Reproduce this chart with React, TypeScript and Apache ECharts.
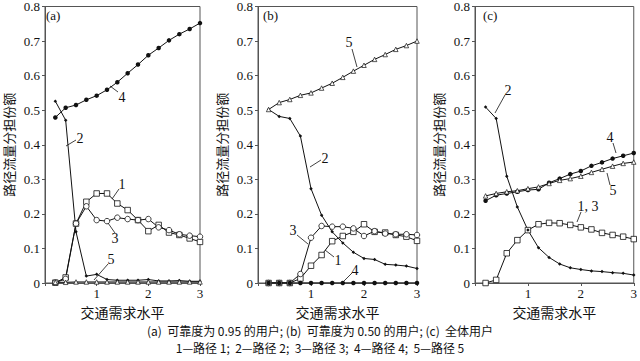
import React, { useEffect, useRef } from "react";
import * as echarts from "echarts";

const xs = [0.2, 0.4, 0.6, 0.8, 1.0, 1.2, 1.4, 1.6, 1.8, 2.0, 2.2, 2.4, 2.6, 2.8, 3.0];

// Panel (a): reliability 0.95 users
const a1 = [0.001, 0.016, 0.172, 0.235, 0.259, 0.259, 0.23, 0.211, 0.182, 0.15, 0.168, 0.146, 0.139, 0.129, 0.119];
const a2 = [0.526, 0.471, 0.148, 0.02, 0.025, 0.01, 0.008, 0.008, 0.008, 0.01, 0.006, 0.006, 0.007, 0.005, 0.005];
const a3 = [0.001, 0.012, 0.172, 0.222, 0.182, 0.179, 0.189, 0.185, 0.182, 0.185, 0.161, 0.153, 0.141, 0.137, 0.134];
const a4 = [0.479, 0.507, 0.515, 0.53, 0.542, 0.559, 0.581, 0.607, 0.632, 0.659, 0.68, 0.702, 0.72, 0.735, 0.752];
const a5 = [0.002, 0.002, 0.003, 0.003, 0.003, 0.003, 0.003, 0.003, 0.003, 0.003, 0.003, 0.003, 0.003, 0.003, 0.003];

// Panel (b): reliability 0.50 users
const b1 = [0, 0, 0, 0.013, 0.05, 0.081, 0.121, 0.136, 0.148, 0.17, 0.148, 0.146, 0.139, 0.134, 0.122];
const b2 = [0.502, 0.482, 0.476, 0.425, 0.273, 0.196, 0.148, 0.116, 0.089, 0.071, 0.068, 0.054, 0.052, 0.049, 0.042];
const b3 = [0, 0, 0, 0.026, 0.131, 0.165, 0.163, 0.163, 0.158, 0.136, 0.15, 0.143, 0.141, 0.141, 0.139];
const b4 = [0, 0, 0, 0, 0, 0, 0, 0, 0, 0, 0, 0, 0, 0, 0];
const b5 = [0.502, 0.522, 0.531, 0.543, 0.55, 0.564, 0.578, 0.595, 0.613, 0.63, 0.647, 0.661, 0.676, 0.687, 0.7];

// Panel (c): all users
const c13 = [0, 0.009, 0.086, 0.124, 0.153, 0.17, 0.174, 0.173, 0.168, 0.161, 0.155, 0.145, 0.139, 0.134, 0.127];
const c2 = [0.509, 0.476, 0.309, 0.22, 0.153, 0.102, 0.074, 0.055, 0.044, 0.039, 0.035, 0.033, 0.03, 0.028, 0.023];
const c4 = [0.238, 0.254, 0.259, 0.264, 0.269, 0.271, 0.29, 0.302, 0.315, 0.324, 0.339, 0.349, 0.36, 0.368, 0.376];
const c5 = [0.252, 0.259, 0.264, 0.267, 0.273, 0.278, 0.288, 0.297, 0.302, 0.309, 0.32, 0.329, 0.338, 0.346, 0.35];

const yTicks = ["0", "0.1", "0.2", "0.3", "0.4", "0.5", "0.6", "0.7", "0.8"];
const xTicks = ["", "1", "2", "3"];
const xName = "交通需求水平";
const yName = "路径流量分担份额";
const caption1 = "(a)  可靠度为 0.95 的用户; (b)  可靠度为 0.50 的用户; (c)  全体用户";
const caption2 = "1—路径 1;  2—路径 2;  3—路径 3;  4—路径 4;  5—路径 5";

const SERIF = "'Liberation Serif', 'Noto Sans CJK SC', serif";
const CJK = "'Noto Sans CJK SC', 'Liberation Serif', serif";
const AXIS_COLOR = "#555";
const INK = "#111";

const pair = (ys: number[]) => xs.map((x, i) => [x, ys[i]]);

type Mark = "sq" | "ci" | "dot" | "small" | "tri";
const markStyle: Record<Mark, any> = {
  sq: { symbol: "rect", symbolSize: 5.5, fill: "#fff", bw: 0.8 },
  ci: { symbol: "circle", symbolSize: 5.5, fill: "#fff", bw: 0.8 },
  dot: { symbol: "circle", symbolSize: 4.5, fill: INK, bw: 0 },
  small: { symbol: "diamond", symbolSize: 3.5, fill: INK, bw: 0 },
  tri: { symbol: "triangle", symbolSize: 4.5, fill: "#fff", bw: 0.7 },
};

function line(name: string, gi: number, ys: number[], mark: Mark) {
  const m = markStyle[mark];
  return {
    type: "line",
    name,
    xAxisIndex: gi,
    yAxisIndex: gi,
    data: pair(ys),
    symbol: m.symbol,
    symbolSize: m.symbolSize,
    lineStyle: { color: INK, width: 1 },
    itemStyle: { color: m.fill, borderColor: INK, borderWidth: m.bw },
    emphasis: { disabled: true },
    z: 3,
  };
}

const lefts = [41, 258, 475];
const panelWidth = 159;

export default function App() {
  const ref = useRef<HTMLDivElement>(null);
  useEffect(() => {
    document.body.style.margin = "0";
    const chart = echarts.init(ref.current!, undefined, { renderer: "svg" });
    const grids = lefts.map((l) => ({
      left: l,
      top: 6,
      width: panelWidth,
      height: 277,
      show: true,
      borderColor: AXIS_COLOR,
      borderWidth: 1,
      backgroundColor: "transparent",
    }));
    const xAxes = lefts.map((_, i) => ({
      type: "value",
      gridIndex: i,
      min: 0,
      max: 3,
      interval: 1,
      name: xName,
      nameLocation: "middle",
      nameGap: 20,
      nameTextStyle: { fontFamily: CJK, fontSize: 14, color: INK },
      axisLine: { lineStyle: { color: AXIS_COLOR } },
      axisTick: { show: true, inside: false, length: 3, lineStyle: { color: AXIS_COLOR } },
      axisLabel: {
        fontFamily: SERIF,
        fontSize: 13,
        color: INK,
        margin: 4,
        formatter: (v: number) => xTicks[Math.round(v)] ?? "",
      },
      splitLine: { show: false },
    }));
    const yAxes = lefts.map((_, i) => ({
      type: "value",
      gridIndex: i,
      min: 0,
      max: 0.8,
      interval: 0.1,
      name: yName,
      nameLocation: "middle",
      nameRotate: 90,
      nameGap: 30,
      nameTextStyle: { fontFamily: CJK, fontSize: 13, color: INK, lineHeight: 14 },
      axisLine: { show: true, lineStyle: { color: AXIS_COLOR } },
      axisTick: { show: true, inside: false, length: 3, lineStyle: { color: AXIS_COLOR } },
      axisLabel: {
        fontFamily: SERIF,
        fontSize: 13,
        color: INK,
        margin: 5,
        formatter: (v: number) => yTicks[Math.round(v * 10)] ?? "",
      },
      splitLine: { show: false },
    }));

    const series = [
      line("a1", 0, a1, "sq"),
      line("a3", 0, a3, "ci"),
      line("a2", 0, a2, "small"),
      line("a4", 0, a4, "dot"),
      line("a5", 0, a5, "tri"),
      line("b1", 1, b1, "sq"),
      line("b3", 1, b3, "ci"),
      line("b2", 1, b2, "small"),
      line("b4", 1, b4, "dot"),
      line("b5", 1, b5, "tri"),
      line("c13", 2, c13, "sq"),
      line("c2", 2, c2, "small"),
      line("c4", 2, c4, "dot"),
      line("c5", 2, c5, "tri"),
    ];

    const txt = (x: number, y: number, t: string, align = "center", size = 14) => ({
      type: "text",
      x,
      y,
      style: { text: t, fontFamily: SERIF, fontSize: size, fill: INK, align, verticalAlign: "middle" },
      z: 10,
    });
    const ld = (x1: number, y1: number, x2: number, y2: number) => ({
      type: "line",
      shape: { x1, y1, x2, y2 },
      style: { stroke: INK, lineWidth: 0.8 },
      z: 10,
    });

    const graphic = [
      txt(46, 15, "(a)", "left", 13),
      txt(122, 97, "4"), ld(118, 92, 110, 86),
      txt(80, 138, "2"), ld(76, 140, 66, 146),
      txt(122, 184, "1"), ld(119, 189, 112, 199),
      txt(115, 238, "3"), ld(115, 233, 108, 223),
      txt(111, 259, "5"), ld(108, 264, 94, 280),

      txt(263, 15, "(b)", "left", 13),
      txt(349, 42, "5"), ld(352, 49, 357, 67),
      txt(325, 158, "2"), ld(321, 160, 310, 167),
      txt(293, 230, "3"), ld(297, 235, 308, 244),
      txt(338, 260, "1"), ld(334, 257, 325, 250),
      txt(355, 270, "4"), ld(352, 273, 343, 282),

      txt(483, 15, "(c)", "left", 13),
      txt(508, 90, "2"), ld(505, 95, 495, 113),
      txt(610, 137, "4"), ld(613, 143, 616, 153),
      txt(613, 190, "5"), ld(610, 185, 607, 173),
      txt(588, 206, "1, 3"), ld(581, 212, 577, 222),

      {
        type: "text",
        x: 320,
        y: 330,
        style: { text: caption1, fontFamily: CJK, fontSize: 12, lineHeight: 13, fill: INK, align: "center", verticalAlign: "middle" },
      },
      {
        type: "text",
        x: 320,
        y: 347,
        style: { text: caption2, fontFamily: CJK, fontSize: 12, lineHeight: 13, fill: INK, align: "center", verticalAlign: "middle" },
      },
    ];

    chart.setOption({
      animation: false,
      backgroundColor: "#fff",
      grid: grids,
      xAxis: xAxes,
      yAxis: yAxes,
      series,
      graphic,
    });
    return () => chart.dispose();
  }, []);
  return (
    <div
      ref={ref}
      style={{ position: "fixed", left: 0, top: 0, width: 640, height: 361, background: "#fff" }}
    />
  );
}
